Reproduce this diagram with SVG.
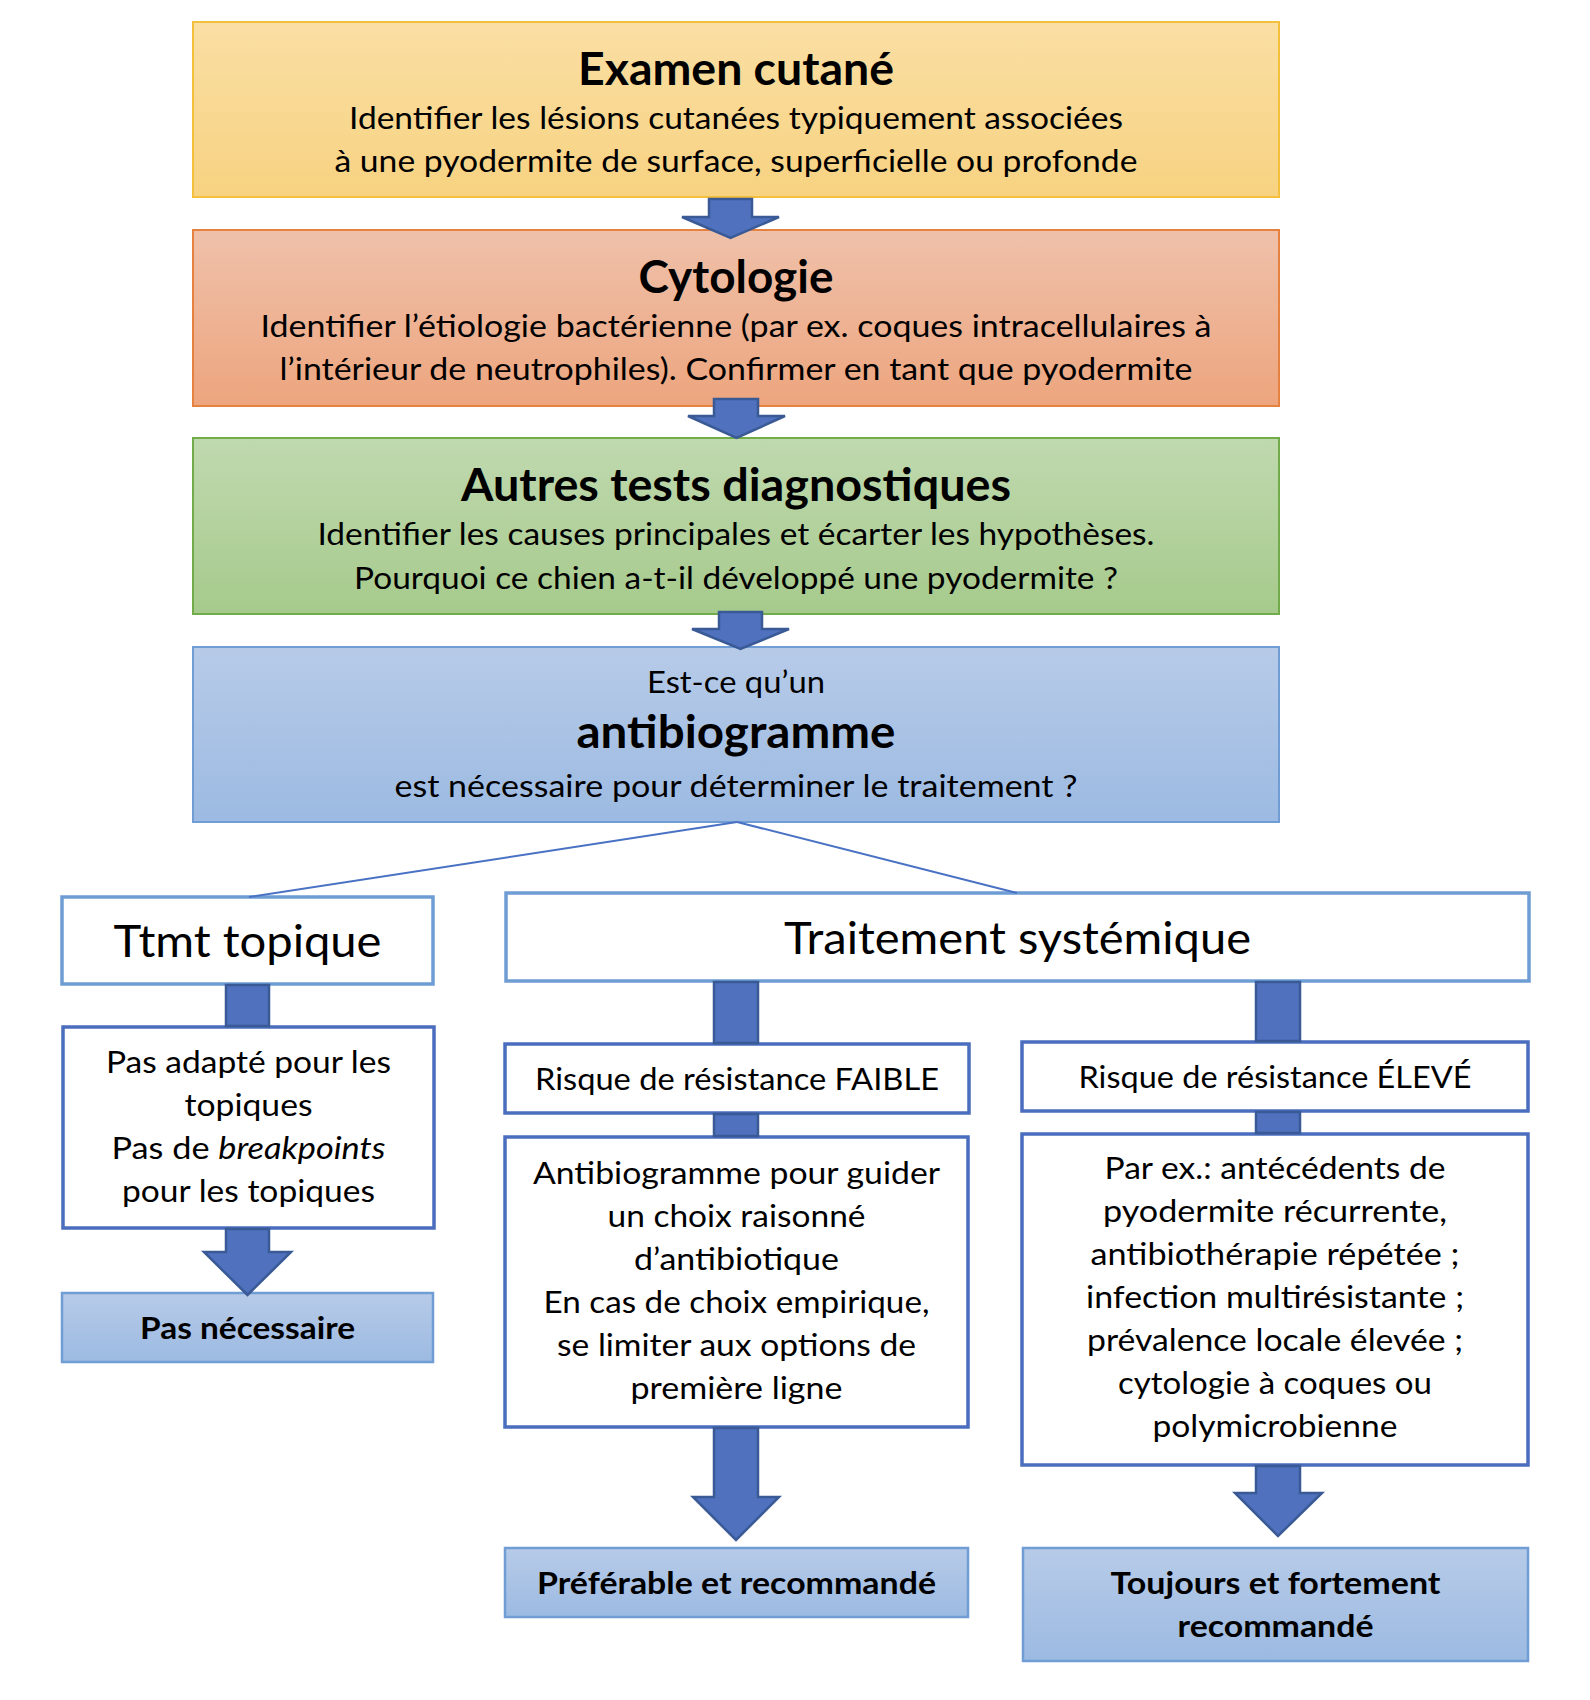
<svg xmlns="http://www.w3.org/2000/svg" width="1590" height="1700" viewBox="0 0 1590 1700">
<defs>
<linearGradient id="gGold" x1="0" y1="0" x2="0" y2="1"><stop offset="0" stop-color="#fadfa4"/><stop offset="1" stop-color="#f7d281"/></linearGradient>
<linearGradient id="gOrange" x1="0" y1="0" x2="0" y2="1"><stop offset="0" stop-color="#efc1aa"/><stop offset="1" stop-color="#eda57e"/></linearGradient>
<linearGradient id="gGreen" x1="0" y1="0" x2="0" y2="1"><stop offset="0" stop-color="#c0d9af"/><stop offset="1" stop-color="#a6ca8c"/></linearGradient>
<linearGradient id="gBlue" x1="0" y1="0" x2="0" y2="1"><stop offset="0" stop-color="#b7cbe8"/><stop offset="1" stop-color="#9cbae2"/></linearGradient>
<style>
text{font-family:"Lato","Open Sans","Liberation Sans",sans-serif;fill:#000;text-anchor:middle}
.t{font-size:31px}
.h{font-size:46px;font-weight:bold}
.m{font-size:44px}
.b{font-size:31px;font-weight:bold}
.lt{fill:#fff;stroke:#6d9dd3;stroke-width:3.5}
.dk{fill:#fff;stroke:#4a6dbd;stroke-width:3.5}
.res{fill:url(#gBlue);stroke:#6f9dd4;stroke-width:2.5}
.arr{fill:#4f71be;stroke:#3a5a96;stroke-width:2.5;stroke-linejoin:miter}
.ln{fill:none;stroke:#4a72c4;stroke-width:2}
</style>
</defs>
<rect width="1590" height="1700" fill="#fff"/>
<g id="examen">
<rect x="193" y="22" width="1086" height="175" fill="url(#gGold)" stroke="#f4bf3a" stroke-width="2"/>
<text class="h" x="736" y="85" textLength="316" lengthAdjust="spacingAndGlyphs">Examen cutané</text>
<text class="t" x="736" y="129" textLength="774" lengthAdjust="spacingAndGlyphs">Identifier les lésions cutanées typiquement associées</text>
<text class="t" x="736" y="172" textLength="803" lengthAdjust="spacingAndGlyphs">à une pyodermite de surface, superficielle ou profonde</text>
</g>
<g id="cytologie">
<rect x="193" y="230" width="1086" height="176" fill="url(#gOrange)" stroke="#e7813f" stroke-width="2"/>
<text class="h" x="736" y="293" textLength="195" lengthAdjust="spacingAndGlyphs">Cytologie</text>
<text class="t" x="736" y="337" textLength="951" lengthAdjust="spacingAndGlyphs">Identifier l’étiologie bactérienne (par ex. coques intracellulaires à</text>
<text class="t" x="736" y="380" textLength="913" lengthAdjust="spacingAndGlyphs">l’intérieur de neutrophiles). Confirmer en tant que pyodermite</text>
</g>
<g id="autres">
<rect x="193" y="438" width="1086" height="176" fill="url(#gGreen)" stroke="#72ab4a" stroke-width="2"/>
<text class="h" x="736" y="501" textLength="550" lengthAdjust="spacingAndGlyphs">Autres tests diagnostiques</text>
<text class="t" x="736" y="545" textLength="837" lengthAdjust="spacingAndGlyphs">Identifier les causes principales et écarter les hypothèses.</text>
<text class="t" x="736" y="589" textLength="764" lengthAdjust="spacingAndGlyphs">Pourquoi ce chien a-t-il développé une pyodermite ?</text>
</g>
<g id="antibiogramme">
<rect x="193" y="647" width="1086" height="175" fill="url(#gBlue)" stroke="#6f9dd4" stroke-width="2"/>
<text class="t" x="736" y="693" textLength="178" lengthAdjust="spacingAndGlyphs">Est-ce qu’un</text>
<text class="h" x="736" y="748" textLength="319" lengthAdjust="spacingAndGlyphs">antibiogramme</text>
<text class="t" x="736" y="797" textLength="683" lengthAdjust="spacingAndGlyphs">est nécessaire pour déterminer le traitement ?</text>
</g>
<g id="topique">
<rect class="lt" x="62" y="897" width="371" height="87"/>
<text class="m" x="247.5" y="957" textLength="268" lengthAdjust="spacingAndGlyphs">Ttmt topique</text>
</g>
<g id="systemique">
<rect class="lt" x="506" y="893" width="1023" height="88"/>
<text class="m" x="1017.5" y="954" textLength="467" lengthAdjust="spacingAndGlyphs">Traitement systémique</text>
</g>
<g id="pas-adapte">
<rect class="dk" x="63" y="1027" width="371" height="201"/>
<text class="t" x="248.5" y="1073" textLength="285" lengthAdjust="spacingAndGlyphs">Pas adapté pour les</text>
<text class="t" x="248.5" y="1116" textLength="128" lengthAdjust="spacingAndGlyphs">topiques</text>
<text class="t" x="248.5" y="1159" textLength="274" lengthAdjust="spacingAndGlyphs">Pas de <tspan font-style="italic">breakpoints</tspan></text>
<text class="t" x="248.5" y="1202" textLength="253" lengthAdjust="spacingAndGlyphs">pour les topiques</text>
</g>
<g id="pas-necessaire">
<rect class="res" x="62" y="1293" width="371" height="69"/>
<text class="b" x="247.5" y="1339" textLength="215" lengthAdjust="spacingAndGlyphs">Pas nécessaire</text>
</g>
<g id="faible">
<rect class="dk" x="505" y="1044" width="464" height="69"/>
<text class="t" x="737" y="1090" textLength="404" lengthAdjust="spacingAndGlyphs">Risque de résistance FAIBLE</text>
</g>
<g id="guider">
<rect class="dk" x="505" y="1137" width="463" height="290"/>
<text class="t" x="736.5" y="1184" textLength="407" lengthAdjust="spacingAndGlyphs">Antibiogramme pour guider</text>
<text class="t" x="736.5" y="1227" textLength="258" lengthAdjust="spacingAndGlyphs">un choix raisonné</text>
<text class="t" x="736.5" y="1270" textLength="205" lengthAdjust="spacingAndGlyphs">d’antibiotique</text>
<text class="t" x="736.5" y="1313" textLength="386" lengthAdjust="spacingAndGlyphs">En cas de choix empirique,</text>
<text class="t" x="736.5" y="1356" textLength="359" lengthAdjust="spacingAndGlyphs">se limiter aux options de</text>
<text class="t" x="736.5" y="1399" textLength="212" lengthAdjust="spacingAndGlyphs">première ligne</text>
</g>
<g id="preferable">
<rect class="res" x="505" y="1548" width="463" height="69"/>
<text class="b" x="736.5" y="1594" textLength="399" lengthAdjust="spacingAndGlyphs">Préférable et recommandé</text>
</g>
<g id="eleve">
<rect class="dk" x="1022" y="1042" width="506" height="69"/>
<text class="t" x="1275" y="1088" textLength="393" lengthAdjust="spacingAndGlyphs">Risque de résistance ÉLEVÉ</text>
</g>
<g id="exemples">
<rect class="dk" x="1022" y="1134" width="506" height="331"/>
<text class="t" x="1275" y="1179" textLength="341" lengthAdjust="spacingAndGlyphs">Par ex.: antécédents de</text>
<text class="t" x="1275" y="1222" textLength="344" lengthAdjust="spacingAndGlyphs">pyodermite récurrente,</text>
<text class="t" x="1275" y="1265" textLength="369" lengthAdjust="spacingAndGlyphs">antibiothérapie répétée ;</text>
<text class="t" x="1275" y="1308" textLength="378" lengthAdjust="spacingAndGlyphs">infection multirésistante ;</text>
<text class="t" x="1275" y="1351" textLength="376" lengthAdjust="spacingAndGlyphs">prévalence locale élevée ;</text>
<text class="t" x="1275" y="1394" textLength="314" lengthAdjust="spacingAndGlyphs">cytologie à coques ou</text>
<text class="t" x="1275" y="1437" textLength="245" lengthAdjust="spacingAndGlyphs">polymicrobienne</text>
</g>
<g id="toujours">
<rect class="res" x="1023" y="1548" width="505" height="113"/>
<text class="b" x="1275.5" y="1594" textLength="330" lengthAdjust="spacingAndGlyphs">Toujours et fortement</text>
<text class="b" x="1275.5" y="1637" textLength="196" lengthAdjust="spacingAndGlyphs">recommandé</text>
</g>
<g id="connectors">
<polygon class="arr" points="709,199 752,199 752,217 779,217 730.5,238 682,217 709,217"/>
<polygon class="arr" points="714,399 758,399 758,416 785,416 736.5,438 688,416 714,416"/>
<polygon class="arr" points="719,612 762,612 762,629 789,629 740.5,649 692,629 719,629"/>
<line class="ln" x1="737" y1="822" x2="249" y2="897"/>
<line class="ln" x1="737" y1="822" x2="1017" y2="893"/>
<rect class="arr" x="226" y="985" width="43" height="41"/>
<polygon class="arr" points="226,1229 269,1229 269,1252 291,1252 247.5,1295 204,1252 226,1252"/>
<rect class="arr" x="714" y="982" width="44" height="61"/>
<rect class="arr" x="714" y="1114" width="44" height="22"/>
<polygon class="arr" points="714,1428 758,1428 758,1497 779,1497 736,1540 693,1497 714,1497"/>
<rect class="arr" x="1256" y="982" width="44" height="59"/>
<rect class="arr" x="1256" y="1112" width="44" height="21"/>
<polygon class="arr" points="1256,1466 1300,1466 1300,1493 1322,1493 1278,1536 1235,1493 1256,1493"/>
</g>
</svg>
